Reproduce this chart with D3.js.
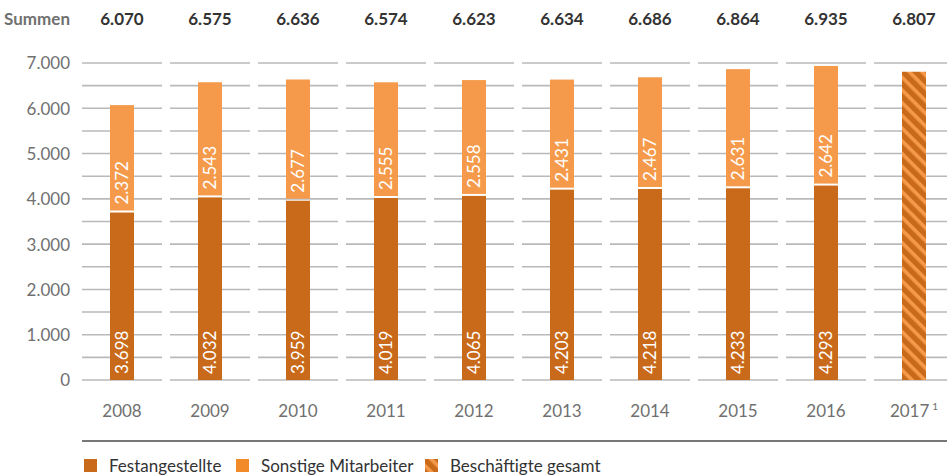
<!DOCTYPE html>
<html>
<head>
<meta charset="utf-8">
<script src="https://cdn.jsdelivr.net/npm/d3@7/dist/d3.min.js"></script>
<style>
  html, body { margin: 0; padding: 0; background: #fff; }
  svg { display: block; }
  text { font-family: Lato, "Noto Sans", sans-serif; }
</style>
</head>
<body>
<svg id="chart" width="947" height="475"></svg>
<script>
// Beschäftigte nach Jahr
const years = ["2008", "2009", "2010", "2011", "2012", "2013", "2014", "2015", "2016", "2017"];
const festangestellte = [3698, 4032, 3959, 4019, 4065, 4203, 4218, 4233, 4293, null];
const sonstige = [2372, 2543, 2677, 2555, 2558, 2431, 2467, 2631, 2642, null];
const summen = [6070, 6575, 6636, 6574, 6623, 6634, 6686, 6864, 6935, 6807];
const yTicks = [0, 1000, 2000, 3000, 4000, 5000, 6000, 7000];
const gridValues = [0, 500, 1000, 1500, 2000, 2500, 3000, 3500, 4000, 4500, 5000, 5500, 6000, 6500, 7000];
const legendItems = ["Festangestellte", "Sonstige Mitarbeiter", "Beschäftigte gesamt"];

const colDark = "#c96a1a";
const colLight = "#f59a4a";
const colLegendLight = "#f38a2a";

const fmt = v => d3.format(",")(v).replace(/,/g, ".");

const svg = d3.select("#chart");

const x = d3.scaleBand().domain(years).range([78, 958]).paddingInner(0).paddingOuter(0);
const y = d3.scaleLinear().domain([0, 7000]).range([380, 63]);
const barW = 24;

// stripe pattern for the total-only bar
const defs = svg.append("defs");
const pat = defs.append("pattern")
  .attr("id", "stripes")
  .attr("patternUnits", "userSpaceOnUse")
  .attr("width", 9).attr("height", 9)
  .attr("patternTransform", "rotate(45)");
pat.append("rect").attr("width", 9).attr("height", 9).attr("fill", colDark);
pat.append("rect").attr("x", 0).attr("y", 0).attr("width", 9).attr("height", 3.6).attr("fill", colLight);

// gridlines, broken per category
const grid = svg.append("g");
years.forEach(yr => {
  grid.selectAll(null).data(gridValues).enter().append("line")
    .attr("x1", x(yr) + 4).attr("x2", x(yr) + x.bandwidth() - 4)
    .attr("y1", d => y(d)).attr("y2", d => y(d))
    .attr("stroke", "#b9b9b9").attr("stroke-width", 1.6);
});

// y axis labels
const yAxis = d3.axisLeft(y).tickValues(yTicks).tickFormat(fmt).tickSize(0).tickPadding(0);
const yg = svg.append("g").attr("transform", "translate(70,0)").call(yAxis);
yg.select(".domain").remove();
yg.selectAll("text").attr("fill", "#707070").attr("font-size", 17)
  .attr("font-family", null).attr("dy", "0.35em");

// x axis labels
const xAxis = d3.axisBottom(x).tickSize(0).tickPadding(0).tickFormat("");
const xg = svg.append("g").attr("transform", "translate(0,380)").call(xAxis);
xg.select(".domain").remove();
xg.selectAll(".tick").append("text")
  .attr("y", 37).attr("text-anchor", "middle")
  .attr("fill", "#707070").attr("font-size", 17)
  .each(function(d) {
    const t = d3.select(this);
    t.append("tspan").text(d);
    if (d === "2017") {
      t.append("tspan").text("1").attr("font-size", 10).attr("dx", 3).attr("dy", -7);
    }
  });

const idx = d3.range(years.length);
const bars = svg.append("g");

// Festangestellte
bars.selectAll(".fest").data(idx.filter(i => festangestellte[i] != null)).enter().append("rect")
  .attr("x", i => x(years[i]) + x.bandwidth() / 2 - barW / 2)
  .attr("width", barW)
  .attr("y", i => y(festangestellte[i]))
  .attr("height", i => y(0) - y(festangestellte[i]))
  .attr("fill", colDark);

// Sonstige Mitarbeiter, stacked with a thin white seam
bars.selectAll(".sonst").data(idx.filter(i => sonstige[i] != null)).enter().append("rect")
  .attr("x", i => x(years[i]) + x.bandwidth() / 2 - barW / 2)
  .attr("width", barW)
  .attr("y", i => y(festangestellte[i] + sonstige[i]))
  .attr("height", i => y(festangestellte[i]) - y(festangestellte[i] + sonstige[i]) - 2)
  .attr("fill", colLight);

// total-only bar (2017)
bars.selectAll(".total").data(idx.filter(i => festangestellte[i] == null)).enter().append("rect")
  .attr("x", i => x(years[i]) + x.bandwidth() / 2 - barW / 2)
  .attr("width", barW)
  .attr("y", i => y(summen[i]))
  .attr("height", i => y(0) - y(summen[i]))
  .attr("fill", "url(#stripes)");

// in-bar value labels
const lab = svg.append("g").attr("fill", "#fff").attr("font-size", 17);
idx.filter(i => festangestellte[i] != null).forEach(i => {
  const cx = x(years[i]) + x.bandwidth() / 2;
  lab.append("text")
    .attr("transform", `translate(${cx + 6},${y(0) - 6}) rotate(-90)`)
    .text(fmt(festangestellte[i]));
  lab.append("text")
    .attr("transform", `translate(${cx + 6},${y(festangestellte[i]) - 8}) rotate(-90)`)
    .text(fmt(sonstige[i]));
});

// sums row
svg.append("text").attr("x", 70).attr("y", 25).attr("text-anchor", "end")
  .attr("font-size", 17).attr("font-weight", "bold").attr("fill", "#707070").text("Summen");
svg.append("g").selectAll("text").data(idx).enter().append("text")
  .attr("x", i => x(years[i]) + x.bandwidth() / 2)
  .attr("y", 25).attr("text-anchor", "middle")
  .attr("font-size", 17).attr("font-weight", "bold").attr("fill", "#333")
  .text(i => fmt(summen[i]));

// separator line above legend
svg.append("line").attr("x1", 82).attr("x2", 947).attr("y1", 441).attr("y2", 441)
  .attr("stroke", "#4a4a4a").attr("stroke-width", 1.5);

// legend
const legendX = [84, 236, 425];
const legendFill = [colDark, colLegendLight, "url(#stripes)"];
const lg = svg.append("g");
legendItems.forEach((name, i) => {
  lg.append("rect").attr("x", legendX[i]).attr("y", 459).attr("width", 13).attr("height", 13)
    .attr("fill", legendFill[i]);
  lg.append("text").attr("x", legendX[i] + 25).attr("y", 472)
    .attr("font-size", 17).attr("fill", "#333").text(name);
});
</script>
</body>
</html>
